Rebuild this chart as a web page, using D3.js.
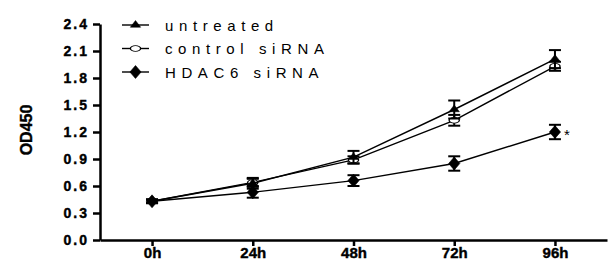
<!DOCTYPE html>
<html>
<head>
<meta charset="utf-8">
<script src="https://cdn.jsdelivr.net/npm/d3@7"></script>
<style>
  body { margin: 0; background: #fff; }
  svg { display: block; font-family: "Liberation Sans", Arial, sans-serif; }
</style>
</head>
<body>
<svg width="609" height="260"></svg>
<script>
// data
const hours = [0, 24, 48, 72, 96];
const hourLabels = ["0h", "24h", "48h", "72h", "96h"];
const yTicks = [0, 0.3, 0.6, 0.9, 1.2, 1.5, 1.8, 2.1, 2.4];

const untreated = [0.43, 0.63, 0.92, 1.45, 2.01];
const untreatedErr = [0.02, 0.06, 0.07, 0.10, 0.10];
const control = [0.43, 0.64, 0.89, 1.33, 1.93];
const controlErr = [0.02, 0.04, 0.04, 0.06, 0.05];
const hdac6 = [0.43, 0.53, 0.66, 0.85, 1.20];
const hdac6Err = [0.02, 0.06, 0.06, 0.08, 0.08];

const seriesNames = ["untreated", "control siRNA", "HDAC6 siRNA"];

let svg = d3.select("svg");

let x = d3.scaleLinear().domain([-12.4, 108.4]).range([100, 607]);
let y = d3.scaleLinear().domain([0, 2.4]).range([240, 24]);

// axes
let yAxis = svg.append("g")
    .attr("transform", "translate(100,0)")
    .call(d3.axisLeft(y).tickValues(yTicks).tickFormat(d3.format(".1f")).tickSize(7).tickSizeOuter(0));
yAxis.select(".domain").attr("stroke-width", 2.5);
yAxis.selectAll(".tick line").attr("stroke-width", 2.5);
yAxis.selectAll("text")
    .attr("font-size", 14).attr("font-weight", "bold")
    .attr("letter-spacing", 2).attr("fill", "#000").attr("x", -11)
    .attr("stroke", "#000").attr("stroke-width", 0.4);

let xAxis = svg.append("g")
    .attr("transform", "translate(0,240)")
    .call(d3.axisBottom(x).tickValues(hours).tickFormat((d, i) => hourLabels[i]).tickSize(6).tickSizeOuter(0));
xAxis.select(".domain").attr("stroke-width", 2.5);
xAxis.selectAll(".tick line").attr("stroke-width", 2.5);
xAxis.selectAll("text")
    .attr("font-size", 15).attr("font-weight", "bold").attr("fill", "#000").attr("y", 7)
    .attr("stroke", "#000").attr("stroke-width", 0.4);

svg.append("text")
    .attr("transform", "translate(32,130) rotate(-90)")
    .attr("text-anchor", "middle")
    .attr("font-size", 16).attr("font-weight", "bold")
    .attr("stroke", "#000").attr("stroke-width", 0.4)
    .text("OD450");

let symbols = [
    d3.symbol().type(d3.symbolTriangle).size(32),
    d3.symbol().type(d3.symbolCircle).size(45),
    d3.symbol().type(d3.symbolDiamond).size(48)
];
let shapeScale = ["scale(1.2,0.9)", "scale(1.35,0.75)", "scale(1.5,1)"];
let fills = ["#000", "#fff", "#000"];

let line = d3.line().x((d, i) => x(hours[i])).y(d => y(d));

function drawSeries(vals, errs, k) {
    let g = svg.append("g");
    g.append("path").datum(vals)
        .attr("d", line).attr("fill", "none").attr("stroke", "#000").attr("stroke-width", 1.4);
    let bars = g.selectAll(".err").data(vals).enter().append("g");
    bars.append("line")
        .attr("x1", (d, i) => x(hours[i])).attr("x2", (d, i) => x(hours[i]))
        .attr("y1", (d, i) => y(d - errs[i])).attr("y2", (d, i) => y(d + errs[i]))
        .attr("stroke", "#000").attr("stroke-width", 2);
    [-1, 1].forEach(s => {
        bars.append("line")
            .attr("x1", (d, i) => x(hours[i]) - 6).attr("x2", (d, i) => x(hours[i]) + 6)
            .attr("y1", (d, i) => y(d + s * errs[i])).attr("y2", (d, i) => y(d + s * errs[i]))
            .attr("stroke", "#000").attr("stroke-width", 2);
    });
    g.selectAll(".pt").data(vals).enter().append("path")
        .attr("d", symbols[k])
        .attr("transform", (d, i) => `translate(${x(hours[i])},${y(d)}) ${shapeScale[k]}`)
        .attr("fill", fills[k]).attr("stroke", "#000").attr("stroke-width", k === 1 ? 1 : 0.5);
}

drawSeries(control, controlErr, 1);
drawSeries(untreated, untreatedErr, 0);
drawSeries(hdac6, hdac6Err, 2);

// significance mark
svg.append("text")
    .attr("x", x(96) + 9).attr("y", y(hdac6[4]) + 8)
    .attr("font-size", 15).text("*");

// legend
let legend = svg.append("g");
seriesNames.forEach((name, k) => {
    let ly = 25 + k * 23.5;
    legend.append("line")
        .attr("x1", 122).attr("x2", 149).attr("y1", ly).attr("y2", ly)
        .attr("stroke", "#000").attr("stroke-width", 1.4);
    legend.append("path")
        .attr("d", symbols[k])
        .attr("transform", `translate(135.5,${ly}) ${shapeScale[k]}`)
        .attr("fill", fills[k]).attr("stroke", "#000").attr("stroke-width", k === 1 ? 1 : 0.5);
    legend.append("text")
        .attr("x", 165).attr("y", ly + 5.5)
        .attr("font-size", 15).attr("letter-spacing", 5.6)
        .text(name);
});
</script>
</body>
</html>
